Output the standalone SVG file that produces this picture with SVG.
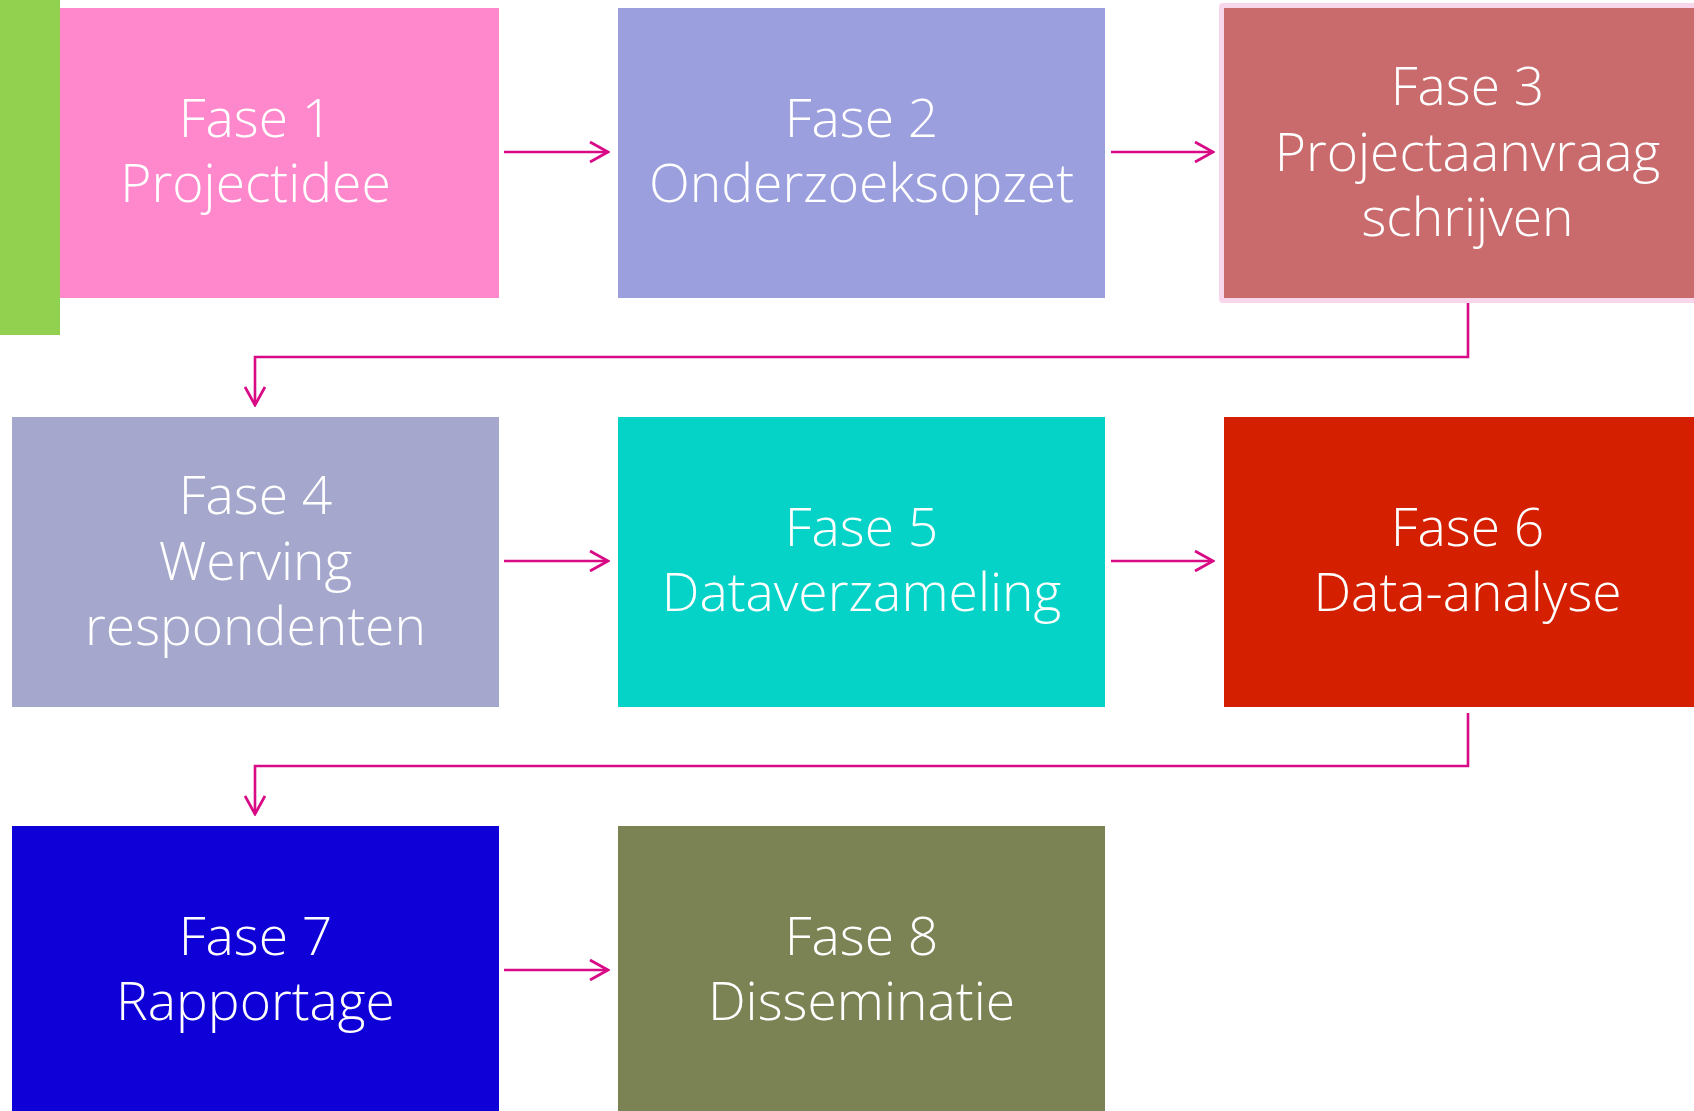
<svg xmlns="http://www.w3.org/2000/svg" width="1694" height="1111" viewBox="0 0 1694 1111">
  <defs>
    <style>
      .lbl { font-family: "Open Sans", "Noto Sans", "Liberation Sans", sans-serif; font-weight: 300; font-size: 53.4px; fill: #ffffff; text-anchor: middle; }
      .conn { fill: none; stroke: #d80a86; stroke-width: 2.6; }
    </style>
    <marker id="head" viewBox="0 0 22 22" refX="20" refY="11" markerWidth="22" markerHeight="22" markerUnits="userSpaceOnUse" orient="auto">
      <path d="M2,1 L20,11 L2,21" fill="none" stroke="#d80a86" stroke-width="2.8"/>
    </marker>
  </defs>
  <rect width="1694" height="1111" fill="#ffffff"/>

  <!-- row 1 -->
  <g id="fase1">
    <rect x="12" y="8" width="487" height="290" fill="#ff88cc"/>
    <text class="lbl"><tspan x="255.5" y="137">Fase 1</tspan><tspan x="255.5" y="202">Projectidee</tspan></text>
  </g>
  <g id="fase2">
    <rect x="618" y="8" width="487" height="290" fill="#9b9fde"/>
    <text class="lbl"><tspan x="861.5" y="137">Fase 2</tspan><tspan x="861.5" y="202">Onderzoeksopzet</tspan></text>
  </g>
  <g id="fase3">
    <rect x="1219" y="3" width="497" height="300" rx="4" fill="#f8d6ec"/>
    <rect x="1224" y="8" width="487" height="290" fill="#c96b6c"/>
    <text class="lbl"><tspan x="1467.5" y="105">Fase 3</tspan><tspan x="1467.5" y="171">Projectaanvraag</tspan><tspan x="1467.5" y="236">schrijven</tspan></text>
  </g>

  <!-- row 2 -->
  <g id="fase4">
    <rect x="12" y="417" width="487" height="290" fill="#a5a8cc"/>
    <text class="lbl"><tspan x="255.5" y="514">Fase 4</tspan><tspan x="255.5" y="580">Werving</tspan><tspan x="255.5" y="645">respondenten</tspan></text>
  </g>
  <g id="fase5">
    <rect x="618" y="417" width="487" height="290" fill="#05d3c8"/>
    <text class="lbl"><tspan x="861.5" y="546">Fase 5</tspan><tspan x="861.5" y="611">Dataverzameling</tspan></text>
  </g>
  <g id="fase6">
    <rect x="1224" y="417" width="487" height="290" fill="#d42000"/>
    <text class="lbl"><tspan x="1467.5" y="546">Fase 6</tspan><tspan x="1467.5" y="611">Data-analyse</tspan></text>
  </g>

  <!-- row 3 -->
  <g id="fase7">
    <rect x="12" y="826" width="487" height="290" fill="#1000d8"/>
    <text class="lbl"><tspan x="255.5" y="955">Fase 7</tspan><tspan x="255.5" y="1020">Rapportage</tspan></text>
  </g>
  <g id="fase8">
    <rect x="618" y="826" width="487" height="290" fill="#7b8354"/>
    <text class="lbl"><tspan x="861.5" y="955">Fase 8</tspan><tspan x="861.5" y="1020">Disseminatie</tspan></text>
  </g>

  <!-- accent bar at the top left -->
  <rect id="accent" x="0" y="0" width="60" height="335" fill="#92d050"/>

  <g id="connectors">
    <path class="conn" marker-end="url(#head)" d="M504,152 H608"/>
    <path class="conn" marker-end="url(#head)" d="M1111,152 H1213"/>
    <path class="conn" marker-end="url(#head)" d="M1468,303 V357 H255 V405"/>
    <path class="conn" marker-end="url(#head)" d="M504,561 H608"/>
    <path class="conn" marker-end="url(#head)" d="M1111,561 H1213"/>
    <path class="conn" marker-end="url(#head)" d="M1468,713 V766 H255 V814"/>
    <path class="conn" marker-end="url(#head)" d="M504,970 H608"/>
  </g>
</svg>
